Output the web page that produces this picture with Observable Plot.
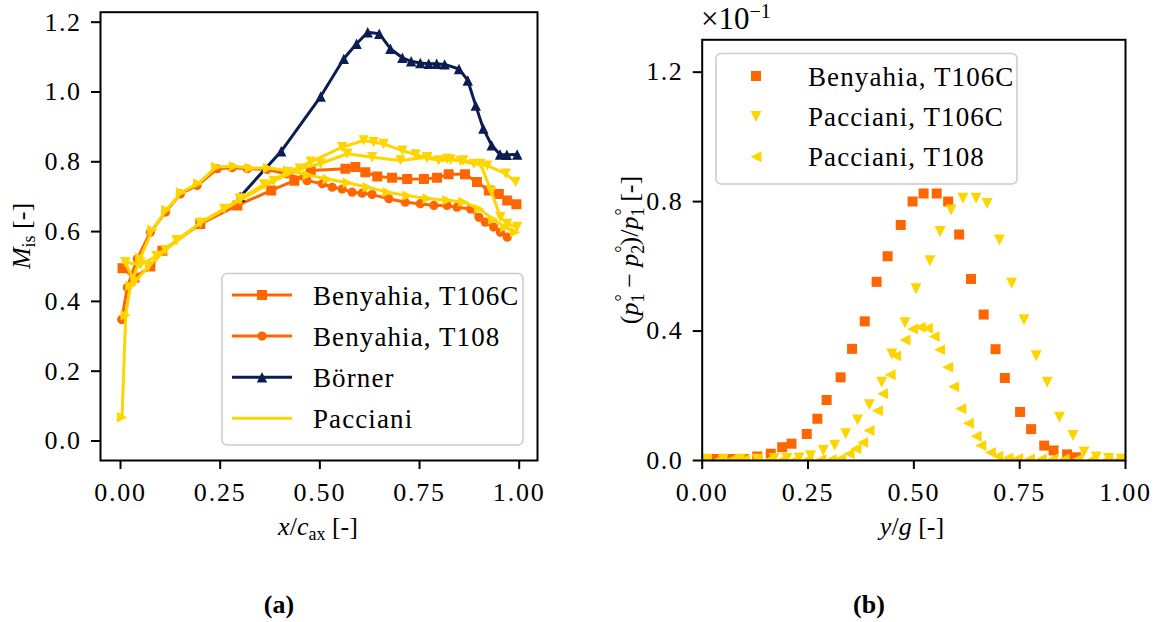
<!DOCTYPE html>
<html><head><meta charset="utf-8">
<script src="https://cdn.jsdelivr.net/npm/d3@7"></script>
<script src="https://cdn.jsdelivr.net/npm/@observablehq/plot@0.6"></script>
<style>
html,body{margin:0;padding:0;background:#fff;}
#wrap{position:relative;width:1153px;height:622px;overflow:hidden;background:#fff;font-family:"Liberation Serif",serif;}
#wrap svg{position:absolute;font-family:"Liberation Serif",serif;}
#wrap svg text{font-family:"Liberation Serif",serif;}
#wrap svg g[aria-label="x-axis tick label"] text{letter-spacing:1.8px;}
#wrap svg g[aria-label="y-axis tick label"] text{letter-spacing:1.5px;}
</style></head><body><div id="wrap"></div>
<script>
// ---------------- data: panel (a) isentropic Mach number ----------------
const benyahiaT106C = [[0.005,0.495],[0.035,0.468],[0.075,0.50],[0.105,0.545],[0.20,0.622],[0.293,0.675],[0.378,0.718],[0.436,0.746],[0.477,0.775],[0.564,0.780],[0.589,0.785],[0.614,0.770],[0.644,0.758],[0.681,0.754],[0.719,0.751],[0.761,0.751],[0.794,0.754],[0.823,0.764],[0.864,0.764],[0.894,0.742],[0.924,0.718],[0.949,0.708],[0.970,0.689],[0.993,0.678]];
const benyahiaT108 = [[0.003,0.348],[0.017,0.44],[0.042,0.522],[0.075,0.598],[0.113,0.656],[0.15,0.708],[0.192,0.732],[0.243,0.78],[0.28,0.783],[0.318,0.78],[0.368,0.778],[0.418,0.765],[0.468,0.746],[0.506,0.737],[0.531,0.727],[0.556,0.722],[0.581,0.713],[0.606,0.710],[0.631,0.706],[0.673,0.694],[0.714,0.684],[0.752,0.680],[0.786,0.675],[0.819,0.675],[0.844,0.670],[0.878,0.665],[0.899,0.641],[0.915,0.627],[0.936,0.613],[0.953,0.598],[0.970,0.584]];
const borner = [[0.30,0.70],[0.403,0.830],[0.502,0.987],[0.560,1.095],[0.592,1.138],[0.620,1.171],[0.649,1.167],[0.677,1.124],[0.707,1.098],[0.729,1.088],[0.752,1.083],[0.773,1.081],[0.793,1.081],[0.813,1.079],[0.849,1.066],[0.871,1.033],[0.891,0.961],[0.910,0.895],[0.931,0.847],[0.952,0.821],[0.969,0.820],[0.995,0.821]];
const paccianiT106C_a = [[0.012,0.512],[0.05,0.505],[0.09,0.53],[0.14,0.575],[0.20,0.625],[0.26,0.665],[0.30,0.695],[0.36,0.735],[0.42,0.77],[0.477,0.80],[0.556,0.842],[0.61,0.861],[0.635,0.856],[0.66,0.851],[0.707,0.832],[0.74,0.821],[0.769,0.811],[0.798,0.804],[0.828,0.806],[0.853,0.802],[0.886,0.794],[0.92,0.789],[0.966,0.766],[0.991,0.742]];
const paccianiT106C_b = [[0.012,0.512],[0.035,0.455],[0.07,0.50],[0.113,0.547],[0.2,0.625],[0.3,0.69],[0.384,0.745],[0.45,0.78],[0.502,0.795],[0.569,0.823],[0.631,0.813],[0.702,0.804],[0.769,0.813],[0.819,0.808],[0.86,0.804],[0.903,0.794],[0.93,0.715],[0.953,0.641],[0.97,0.622],[0.995,0.613]];
const paccianiT108 = [[0.004,0.068],[0.013,0.36],[0.025,0.445],[0.05,0.525],[0.08,0.605],[0.115,0.662],[0.152,0.712],[0.195,0.738],[0.24,0.785],[0.285,0.787],[0.325,0.782],[0.37,0.782],[0.42,0.775],[0.47,0.762],[0.52,0.75],[0.57,0.74],[0.62,0.727],[0.67,0.713],[0.72,0.703],[0.77,0.695],[0.82,0.69],[0.86,0.685],[0.90,0.665],[0.935,0.635],[0.965,0.612],[0.99,0.598]];
const xTicksA = [0, 0.25, 0.5, 0.75, 1.0];
const yTicksA = [0, 0.2, 0.4, 0.6, 0.8, 1.0, 1.2];
const legendA = ["Benyahia, T106C", "Benyahia, T108", "Börner", "Pacciani"];

// ---------------- data: panel (b) total pressure loss (x10^-1) ----------------
const wakeBenyahiaT106C = [[0.0,0.005],[0.012,0.005],[0.033,0.005],[0.071,0.005],[0.098,0.005],[0.130,0.012],[0.162,0.021],[0.189,0.041],[0.211,0.052],[0.247,0.082],[0.272,0.129],[0.294,0.187],[0.327,0.257],[0.354,0.345],[0.384,0.430],[0.412,0.552],[0.438,0.631],[0.469,0.728],[0.497,0.800],[0.523,0.825],[0.554,0.825],[0.581,0.800],[0.607,0.698],[0.635,0.561],[0.665,0.451],[0.693,0.344],[0.715,0.255],[0.751,0.150],[0.777,0.097],[0.808,0.046],[0.830,0.031],[0.862,0.019],[0.883,0.010]];
const wakePaccianiT106C = [[0.01,0.004],[0.05,0.004],[0.09,0.004],[0.13,0.004],[0.17,0.006],[0.20,0.006],[0.229,0.008],[0.256,0.015],[0.286,0.031],[0.313,0.047],[0.339,0.083],[0.367,0.125],[0.395,0.172],[0.424,0.242],[0.448,0.329],[0.479,0.426],[0.505,0.531],[0.538,0.617],[0.562,0.708],[0.588,0.774],[0.616,0.810],[0.647,0.810],[0.673,0.794],[0.702,0.681],[0.731,0.548],[0.760,0.435],[0.789,0.324],[0.815,0.242],[0.844,0.134],[0.876,0.077],[0.902,0.026],[0.931,0.011],[0.96,0.006],[0.99,0.004]];
const wakePaccianiT108 = [[0.01,0.003],[0.04,0.003],[0.07,0.003],[0.10,0.003],[0.13,0.003],[0.16,0.003],[0.19,0.003],[0.22,0.003],[0.25,0.003],[0.28,0.003],[0.305,0.003],[0.327,0.006],[0.347,0.021],[0.363,0.036],[0.379,0.056],[0.394,0.093],[0.414,0.154],[0.426,0.206],[0.444,0.265],[0.457,0.324],[0.479,0.372],[0.497,0.406],[0.515,0.412],[0.532,0.409],[0.548,0.383],[0.561,0.342],[0.580,0.288],[0.594,0.228],[0.611,0.160],[0.629,0.115],[0.647,0.075],[0.658,0.046],[0.681,0.025],[0.698,0.013],[0.722,0.008],[0.745,0.006],[0.773,0.005],[0.801,0.005],[0.828,0.005],[0.855,0.005],[0.887,0.005],[0.923,0.005],[0.958,0.005],[0.986,0.005]];
const xTicksB = [0, 0.25, 0.5, 0.75, 1.0];
const yTicksB = [0, 0.4, 0.8, 1.2];
const legendB = ["Benyahia, T106C", "Pacciani, T106C", "Pacciani, T108"];

// ---------------- style ----------------
const ORANGE = "#ff6600", YELLOW = "#ffd500", NAVY = "#0b1d51";
const FONT = "Liberation Serif, serif";
const FS = 26;

function mkSym(pts) {
  return {draw(ctx, size) {
    const m = Math.sqrt(size / Math.PI);
    ctx.moveTo(pts[0][0] * m, pts[0][1] * m);
    for (let i = 1; i < pts.length; ++i) ctx.lineTo(pts[i][0] * m, pts[i][1] * m);
    ctx.closePath();
  }};
}
const SQUARE = mkSym([[-1,-1],[1,-1],[1,1],[-1,1]]);
const TRI_UP = mkSym([[0,-1],[-1,1],[1,1]]);
const TRI_DOWN = mkSym([[0,1],[-1,-1],[1,-1]]);
const TRI_LEFT = mkSym([[-1,0],[1,-1],[1,1]]);
const TRI_RIGHT = mkSym([[1,0],[-1,-1],[-1,1]]);

const X = d => d[0], Y = d => d[1];
const line = (data, color) => Plot.line(data, {x: X, y: Y, stroke: color, strokeWidth: 3, clip: true});
const dots = (data, color, symbol, r) => Plot.dot(data, {x: X, y: Y, fill: color, stroke: "none", symbol, r, clip: true});

const wrap = document.getElementById("wrap");

const axisStyle = {fontFamily: FONT, fontSize: FS + "px", color: "black", background: "transparent", overflow: "visible"};

// ---------------- panel (a) ----------------
const plotA = Plot.plot({
  width: 600, height: 540,
  marginLeft: 100, marginRight: 63, marginTop: 11.7, marginBottom: 80,
  x: {domain: [-0.0502, 1.0459]},
  y: {domain: [-0.0559, 1.2286]},
  style: axisStyle,
  marks: [
    line(benyahiaT106C, ORANGE), dots(benyahiaT106C, ORANGE, SQUARE, 5),
    line(benyahiaT108, ORANGE), Plot.dot(benyahiaT108, {x: X, y: Y, fill: ORANGE, r: 4.6, clip: true}),
    line(borner, NAVY), dots(borner, NAVY, TRI_UP, 5.2),
    line(paccianiT106C_a, YELLOW), line(paccianiT106C_b, YELLOW), line(paccianiT108, YELLOW),
    dots(paccianiT106C_a, YELLOW, TRI_DOWN, 5.2), dots(paccianiT106C_b, YELLOW, TRI_DOWN, 5.2), dots(paccianiT108, YELLOW, TRI_RIGHT, 5.2),
    Plot.frame({stroke: "black", strokeWidth: 2}),
    Plot.axisX({ticks: xTicksA, tickFormat: d3.format(".2f"), tickSize: 9, tickPadding: 13, strokeWidth: 2, fontSize: FS, label: null}),
    Plot.axisY({ticks: yTicksA, tickFormat: d3.format(".1f"), tickSize: 9, tickPadding: 10, strokeWidth: 2, fontSize: FS, label: null})
  ]
});
plotA.style.left = "0px"; plotA.style.top = "0px";
wrap.appendChild(plotA);

// ---------------- panel (b) ----------------
const plotB = Plot.plot({
  width: 553, height: 540,
  marginLeft: 101.7, marginRight: 28, marginTop: 39.3, marginBottom: 80,
  x: {domain: [0, 1]},
  y: {domain: [0, 1.3]},
  style: axisStyle,
  marks: [
    dots(wakeBenyahiaT106C, ORANGE, SQUARE, 5),
    dots(wakePaccianiT106C, YELLOW, TRI_DOWN, 5.5),
    dots(wakePaccianiT108, YELLOW, TRI_LEFT, 5.5),
    Plot.frame({stroke: "black", strokeWidth: 2}),
    Plot.axisX({ticks: xTicksB, tickFormat: d3.format(".2f"), tickSize: 9, tickPadding: 13, strokeWidth: 2, fontSize: FS, label: null}),
    Plot.axisY({ticks: yTicksB, tickFormat: d3.format(".1f"), tickSize: 9, tickPadding: 10, strokeWidth: 2, fontSize: FS, label: null})
  ]
});
plotB.style.left = "600px"; plotB.style.top = "0px";
wrap.appendChild(plotB);

// ---------------- overlay: labels, legends, captions ----------------
const ov = d3.select(wrap).append("svg")
  .attr("width", 1153).attr("height", 622)
  .style("left", "0px").style("top", "0px").style("pointer-events", "none")
  .attr("font-family", FONT);

function rich(x, y, segs, opts = {}) {
  const t = ov.append("text").attr("x", x).attr("y", y)
    .attr("text-anchor", opts.anchor || "middle").attr("font-size", opts.size || FS).attr("fill", "black");
  if (opts.rotate) t.attr("transform", `rotate(-90 ${x} ${y})`);
  if (opts.weight) t.attr("font-weight", opts.weight);
  let cur = 0;
  for (const s of segs) {
    const sp = t.append("tspan").text(s.t);
    const shift = s.shift || 0;
    const dy = shift - cur;
    if (dy) sp.attr("dy", dy);
    cur = shift;
    if (s.italic) sp.attr("font-style", "italic");
    if (s.size) sp.attr("font-size", s.size);
    if (s.dx) sp.attr("dx", s.dx);
  }
  return t;
}

// axis labels
rich(30, 236, [{t: "M", italic: true}, {t: "is", shift: 5, size: 18}, {t: " [-]"}], {rotate: true});
rich(318, 535, [{t: "x", italic: true}, {t: "/"}, {t: "c", italic: true}, {t: "ax", shift: 5, size: 18}, {t: " [-]"}]);
rich(912, 535, [{t: "y", italic: true}, {t: "/"}, {t: "g", italic: true}, {t: " [-]"}]);
rich(638, 250, [
  {t: "("}, {t: "p", italic: true}, {t: "1", shift: 6, size: 18}, {t: "°", shift: -10, size: 18, dx: -8},
  {t: " − "}, {t: "p", italic: true}, {t: "2", shift: 6, size: 18}, {t: "°", shift: -10, size: 18, dx: -8},
  {t: ")/"}, {t: "p", italic: true}, {t: "1", shift: 6, size: 18}, {t: "°", shift: -10, size: 18, dx: -8},
  {t: " [-]"}
], {rotate: true});
// offset text
rich(701, 29, [{t: "×10"}, {t: "−1", shift: -11, size: 20}], {anchor: "start", size: 31});
// captions
rich(279, 613, [{t: "(a)"}], {weight: "bold"});
rich(869, 613, [{t: "(b)"}], {weight: "bold"});

function legendBox(x, y, w, h) {
  ov.append("rect").attr("x", x).attr("y", y).attr("width", w).attr("height", h).attr("rx", 5)
    .attr("fill", "white").attr("fill-opacity", 0.8).attr("stroke", "#cccccc").attr("stroke-width", 1.5);
}
function legendSym(x, y, type, r, color) {
  if (type === "circle") ov.append("circle").attr("cx", x).attr("cy", y).attr("r", r).attr("fill", color);
  else ov.append("path").attr("transform", `translate(${x},${y})`).attr("d", d3.symbol(type, Math.PI * r * r)()).attr("fill", color);
}
function legendText(x, y, s) {
  ov.append("text").attr("x", x).attr("y", y + 9.5).attr("font-size", 27).attr("letter-spacing", 1.1).attr("fill", "black").text(s);
}

// legend (a)
legendBox(222, 273.5, 301, 171.5);
const specA = [[ORANGE, SQUARE, 5], [ORANGE, "circle", 4.6], [NAVY, TRI_UP, 5.2], [YELLOW, null, 0]];
specA.forEach(([c, sym, r], i) => {
  const y = 295 + i * 41.1;
  ov.append("line").attr("x1", 232).attr("x2", 292).attr("y1", y).attr("y2", y).attr("stroke", c).attr("stroke-width", 3);
  if (sym) legendSym(262, y, sym, r, c);
  legendText(313, y, legendA[i]);
});

// legend (b)
legendBox(716, 53.5, 301, 130.5);
const specB = [[ORANGE, SQUARE, 5], [YELLOW, TRI_DOWN, 5.5], [YELLOW, TRI_LEFT, 5.5]];
specB.forEach(([c, sym, r], i) => {
  const y = 76 + i * 40.4;
  legendSym(756, y, sym, r, c);
  legendText(808, y, legendB[i]);
});
</script>
</body></html>
